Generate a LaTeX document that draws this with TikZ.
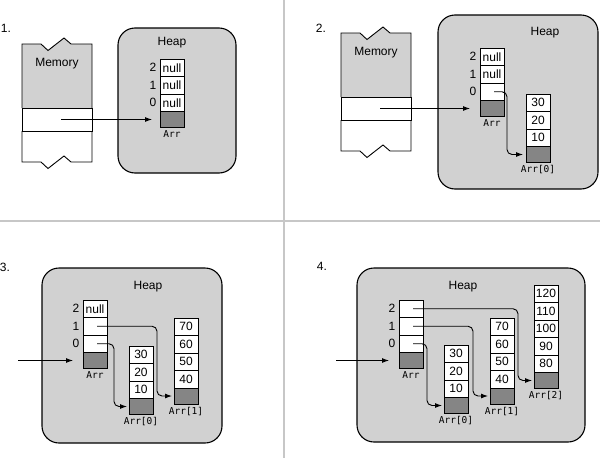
\documentclass[tikz,border=0pt]{standalone}
\usepackage{fontspec}
\setmainfont{Liberation Sans}
\newfontfamily\monof{DejaVu Sans Mono}
\usetikzlibrary{positioning,arrows.meta}
\definecolor{heapgray}{gray}{0.82}
\definecolor{darkcell}{gray}{0.52}
\definecolor{divgray}{gray}{0.78}
\tikzset{
 heap/.style={draw=black, line width=1.1pt, fill=heapgray, rounded corners=17pt},
 membox/.style={draw=black, line width=0.9pt},
 memcell/.style={draw=black, line width=0.9pt, fill=white, minimum width=70pt, minimum height=23pt, inner sep=0pt, outer sep=0pt},
 cellbox/.style={draw=black, line width=0.9pt, fill=white, minimum width=24pt, minimum height=17.5pt, inner sep=0pt, outer sep=0pt, font=\fontsize{12}{12}\selectfont},
 graycell/.style={draw=black, line width=0.9pt, fill=darkcell, minimum width=24pt, minimum height=16pt, inner sep=0pt, outer sep=0pt},
 idx/.style={font=\fontsize{12}{12}\selectfont, inner sep=0pt},
 lab/.style={font=\monof\fontsize{9.5}{10}\selectfont, inner sep=1pt},
 title/.style={font=\fontsize{12}{12}\selectfont, inner sep=0pt},
 conn/.style={line width=0.9pt, rounded corners=5pt, -{Latex[length=7pt,width=5pt]}},
 arr/.style={line width=0.9pt, -{Latex[length=7pt,width=5pt]}},
 divider/.style={draw=divgray, line width=2pt}
}
\newcommand\memblock[3]{%
 \begin{scope}[shift={(#2,#3)}]
   \fill[heapgray] (0,64) -- (0,0) -- (19,0) -- (26,6.5) -- (42,-6) -- (49,0) -- (70,0) -- (70,64) -- cycle;
   \draw[membox] (0,64) -- (0,0) -- (19,0) -- (26,6.5) -- (42,-6) -- (49,0) -- (70,0) -- (70,64);
   \node[memcell, anchor=north west] (#1) at (0,64) {};
   \draw[membox] (0,87) -- (0,118) -- (19,118) -- (26,124.5) -- (42,112) -- (49,118) -- (70,118) -- (70,87);
   \node[title] (#1t) at (35,20) {Memory};
 \end{scope}}
\begin{document}
\begin{tikzpicture}[x=1pt,y=-1pt]
\useasboundingbox (0,0) rectangle (600,458);
% dividers
\draw[divider] (284,0) -- (284,458);
\draw[divider] (0,221) -- (600,221);

% ---------- Panel 1 ----------
\node[title] (t1) at (6,28.5) {1.};
\memblock{m1}{22}{44}
\draw[heap] (118,28) rectangle (236,173);
\node[title] (h1) at (172,43) {Heap};
\node[cellbox, anchor=north west] (p1a2) at (160,59) {null};
\node[cellbox, below=0pt of p1a2] (p1a1) {null};
\node[cellbox, below=0pt of p1a1] (p1a0) {null};
\node[graycell, below=0pt of p1a0] (p1ag) {};
\node[lab, below=2pt of p1ag] (p1al) {Arr};
\node[idx, left=3.5pt of p1a2] (p1i2) {2};
\node[idx, left=3.5pt of p1a1] (p1i1) {1};
\node[idx, left=3.5pt of p1a0] (p1i0) {0};
\draw[arr] ([xshift=4pt]m1.center) -- ([xshift=-8pt]p1ag.west |- m1.center);

% ---------- Panel 2 ----------
\node[title] (t2) at (321,28) {2.};
\memblock{m2}{341}{33}
\draw[heap] (438,15) rectangle (598,189);
\node[title] (h2) at (545,33) {Heap};
\node[cellbox, anchor=north west] (p2a2) at (480,48) {null};
\node[cellbox, below=0pt of p2a2] (p2a1) {null};
\node[cellbox, below=0pt of p2a1] (p2a0) {};
\node[graycell, below=0pt of p2a0] (p2ag) {};
\node[lab, below=2pt of p2ag] (p2al) {Arr};
\node[idx, left=3.5pt of p2a2] (p2i2) {2};
\node[idx, left=3.5pt of p2a1] (p2i1) {1};
\node[idx, left=3.5pt of p2a0] (p2i0) {0};
\node[cellbox, anchor=north west] (p2b1) at (526,94) {30};
\node[cellbox, below=0pt of p2b1] (p2b2) {20};
\node[cellbox, below=0pt of p2b2] (p2b3) {10};
\node[graycell, below=0pt of p2b3] (p2bg) {};
\node[lab, below=2pt of p2bg] (p2bl) {Arr[0]};
\draw[arr] ([xshift=4pt]m2.center) -- ([xshift=-10pt]p2ag.west |- m2.center);
\draw[conn] ([xshift=2pt]p2a0.center) -- ++(13,0) |- ([xshift=-3pt]p2bg.west);

% ---------- Panel 3 ----------
\node[title] (t3) at (5,267) {3.};
\draw[heap] (42,268) rectangle (222,443);
\node[title] (h3) at (148,287) {Heap};
\node[cellbox, anchor=north west] (p3a2) at (83,300) {null};
\node[cellbox, below=0pt of p3a2] (p3a1) {};
\node[cellbox, below=0pt of p3a1] (p3a0) {};
\node[graycell, below=0pt of p3a0] (p3ag) {};
\node[lab, below=2pt of p3ag] (p3al) {Arr};
\node[idx, left=3.5pt of p3a2] (p3i2) {2};
\node[idx, left=3.5pt of p3a1] (p3i1) {1};
\node[idx, left=3.5pt of p3a0] (p3i0) {0};
\node[cellbox, anchor=north west] (p3b1) at (129,346) {30};
\node[cellbox, below=0pt of p3b1] (p3b2) {20};
\node[cellbox, below=0pt of p3b2] (p3b3) {10};
\node[graycell, below=0pt of p3b3] (p3bg) {};
\node[lab, below=2pt of p3bg] (p3bl) {Arr[0]};
\node[cellbox, anchor=north west] (p3c1) at (174,318) {70};
\node[cellbox, below=0pt of p3c1] (p3c2) {60};
\node[cellbox, below=0pt of p3c2] (p3c3) {50};
\node[cellbox, below=0pt of p3c3] (p3c4) {40};
\node[graycell, below=0pt of p3c4] (p3cg) {};
\node[lab, below=2pt of p3cg] (p3cl) {Arr[1]};
\coordinate (p3in) at (18,0);
\draw[arr] (p3in |- p3ag.west) -- ([xshift=-10pt]p3ag.west);
\draw[conn] ([xshift=2pt]p3a1.center) -- ++(60,0) |- ([xshift=-2pt]p3cg.west);
\draw[conn] ([xshift=2pt]p3a0.center) -- ++(17,0) |- ([xshift=-2pt]p3bg.west);

% ---------- Panel 4 ----------
\node[title] (t4) at (322,266) {4.};
\draw[heap] (357,268) rectangle (585,442);
\node[title] (h4) at (463,287) {Heap};
\node[cellbox, anchor=north west] (p4a2) at (399,300) {};
\node[cellbox, below=0pt of p4a2] (p4a1) {};
\node[cellbox, below=0pt of p4a1] (p4a0) {};
\node[graycell, below=0pt of p4a0] (p4ag) {};
\node[lab, below=2pt of p4ag] (p4al) {Arr};
\node[idx, left=3.5pt of p4a2] (p4i2) {2};
\node[idx, left=3.5pt of p4a1] (p4i1) {1};
\node[idx, left=3.5pt of p4a0] (p4i0) {0};
\node[cellbox, anchor=north west] (p4b1) at (444,345) {30};
\node[cellbox, below=0pt of p4b1] (p4b2) {20};
\node[cellbox, below=0pt of p4b2] (p4b3) {10};
\node[graycell, below=0pt of p4b3] (p4bg) {};
\node[lab, below=2pt of p4bg] (p4bl) {Arr[0]};
\node[cellbox, anchor=north west] (p4c1) at (490,318) {70};
\node[cellbox, below=0pt of p4c1] (p4c2) {60};
\node[cellbox, below=0pt of p4c2] (p4c3) {50};
\node[cellbox, below=0pt of p4c3] (p4c4) {40};
\node[graycell, below=0pt of p4c4] (p4cg) {};
\node[lab, below=2pt of p4cg] (p4cl) {Arr[1]};
\node[cellbox, anchor=north west] (p4d1) at (534,285) {120};
\node[cellbox, below=0pt of p4d1] (p4d2) {110};
\node[cellbox, below=0pt of p4d2] (p4d3) {100};
\node[cellbox, below=0pt of p4d3] (p4d4) {90};
\node[cellbox, below=0pt of p4d4] (p4d5) {80};
\node[graycell, below=0pt of p4d5] (p4dg) {};
\node[lab, below=2pt of p4dg] (p4dl) {Arr[2]};
\coordinate (p4in) at (336,0);
\draw[arr] (p4in |- p4ag.west) -- ([xshift=-10pt]p4ag.west);
\draw[conn] ([xshift=2pt]p4a2.center) -- ++(105,0) |- ([xshift=-2pt]p4dg.west);
\draw[conn] ([xshift=2pt]p4a1.center) -- ++(60,0) |- ([xshift=-2pt]p4cg.west);
\draw[conn] ([xshift=2pt]p4a0.center) -- ++(14,0) |- ([xshift=-2pt]p4bg.west);
\end{tikzpicture}
\end{document}
